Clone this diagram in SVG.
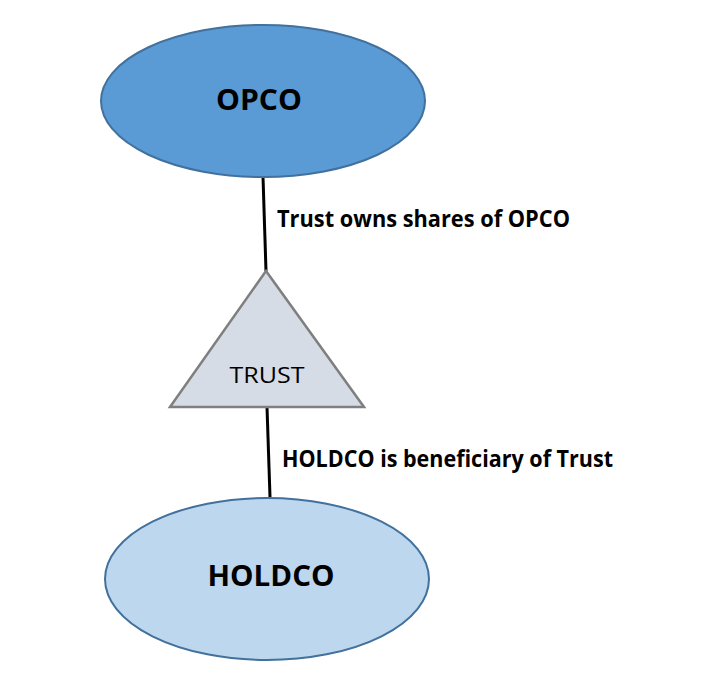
<svg xmlns="http://www.w3.org/2000/svg" width="706" height="676" viewBox="0 0 706 676">
<style>
.lbl{font-family:"Open Sans","Liberation Sans",Arial,sans-serif;font-weight:bold;font-size:24px;fill:#000}
.big{font-family:"Open Sans","Liberation Sans",Arial,sans-serif;font-weight:bold;font-size:29px;fill:#000;text-anchor:middle}
.conn{stroke:#000;stroke-width:3;fill:none}
</style>
<rect width="706" height="676" fill="#fff"/>
<g id="connectors">
<line class="conn" x1="263" y1="177" x2="266" y2="271"/>
<line class="conn" x1="267" y1="407" x2="270" y2="497"/>
<text class="lbl" x="277" y="227" textLength="293" lengthAdjust="spacingAndGlyphs">Trust owns shares of OPCO</text>
<text class="lbl" x="282" y="467" textLength="331" lengthAdjust="spacingAndGlyphs">HOLDCO is beneficiary of Trust</text>
</g>
<g id="opco">
<ellipse cx="263" cy="101" rx="162" ry="76" fill="#5b9bd5" stroke="#41719c" stroke-width="2"/>
<text class="big" x="259" y="110" textLength="86" lengthAdjust="spacingAndGlyphs">OPCO</text>
</g>
<g id="trust">
<polygon points="266,271 170,407 364,407" fill="#d6dce5" stroke="#7f7f7f" stroke-width="2.5"/>
<text x="267" y="383" text-anchor="middle" font-family="Open Sans,Liberation Sans,Arial,sans-serif" font-size="22" fill="#000" textLength="75" lengthAdjust="spacingAndGlyphs">TRUST</text>
</g>
<g id="holdco">
<ellipse cx="267" cy="579" rx="162" ry="81" fill="#bdd7ee" stroke="#41719c" stroke-width="2"/>
<text class="big" x="271" y="586" textLength="127" lengthAdjust="spacingAndGlyphs">HOLDCO</text>
</g>
</svg>
